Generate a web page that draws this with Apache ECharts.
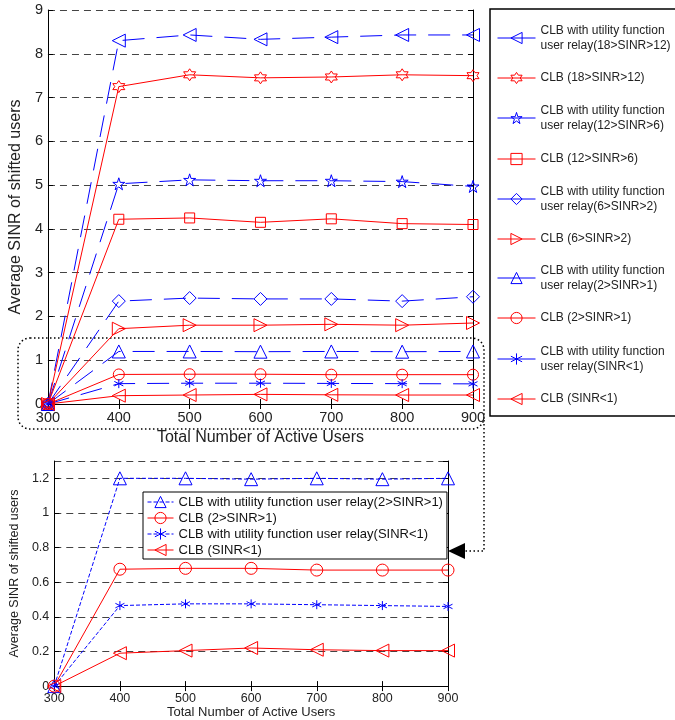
<!DOCTYPE html>
<html>
<head>
<meta charset="utf-8">
<script src="https://cdn.jsdelivr.net/npm/echarts@6/dist/echarts.min.js"></script>
<style>
  html, body { margin: 0; padding: 0; background: #fff; }
  #chart { width: 675px; height: 720px; }
</style>
</head>
<body>
<div id="chart"></div>
<script>
// data
const users = [300, 400, 500, 600, 700, 800, 900];
const utility18to12 = [0, 8.30, 8.43, 8.33, 8.38, 8.43, 8.43];
const clb18to12 = [0, 7.25, 7.52, 7.45, 7.47, 7.52, 7.50];
const utility12to6 = [0, 5.03, 5.12, 5.10, 5.10, 5.08, 4.97];
const clb12to6 = [0, 4.22, 4.25, 4.15, 4.23, 4.12, 4.10];
const utility6to2 = [0, 2.35, 2.42, 2.40, 2.40, 2.35, 2.45];
const clb6to2 = [0, 1.72, 1.80, 1.80, 1.82, 1.80, 1.85];
const utility2to1 = [0, 1.20, 1.20, 1.195, 1.20, 1.195, 1.20];
const clb2to1 = [0, 0.675, 0.68, 0.68, 0.67, 0.67, 0.67];
const utilityBelow1 = [0, 0.465, 0.475, 0.475, 0.47, 0.465, 0.46];
const clbBelow1 = [0, 0.19, 0.205, 0.22, 0.21, 0.205, 0.205];

const FONT = '"Liberation Sans", Arial, sans-serif';
const BLUE = '#0000ff';
const RED = '#ff0000';
const TEXT = '#222';
const CLEAR = 'rgba(255,255,255,0)';

const HEXAGRAM = 'path://M0,-10L2.887,-5L8.66,-5L5.774,0L8.66,5L2.887,5L0,10L-2.887,5L-8.66,5L-5.774,0L-8.66,-5L-2.887,-5Z';
const STAR = 'path://M0,-10L2.245,-3.09L9.511,-3.09L3.633,1.18L5.878,8.09L0,3.82L-5.878,8.09L-3.633,1.18L-9.511,-3.09L-2.245,-3.09Z';
const ASTERISK = 'path://M0,-10L0,10M-8.66,-5L8.66,5M-8.66,5L8.66,-5';

const TOP_DASH = [22, 12];
const LOW_DASH = [4, 2];

function pairs(values) {
  return users.map((u, i) => [u, values[i]]);
}

function makeSeries(name, values, color, symbol, size, dash, grid, rotate) {
  return {
    type: 'line',
    name: name,
    data: pairs(values),
    xAxisIndex: grid * 2,
    yAxisIndex: grid * 2,
    symbol: symbol,
    symbolSize: size,
    symbolRotate: rotate || 0,
    lineStyle: { color: color, width: 1, type: dash },
    itemStyle: { color: CLEAR, borderColor: color, borderWidth: 1 },
    emphasis: { disabled: true }
  };
}

const topSeries = [
  makeSeries('CLB with utility function\nuser relay(18>SINR>12)', utility18to12, BLUE, 'triangle', 13, TOP_DASH, 0, 90),
  makeSeries('CLB (18>SINR>12)', clb18to12, RED, HEXAGRAM, 12, 'solid', 0),
  makeSeries('CLB with utility function\nuser relay(12>SINR>6)', utility12to6, BLUE, STAR, 12, TOP_DASH, 0),
  makeSeries('CLB (12>SINR>6)', clb12to6, RED, 'rect', 10, 'solid', 0),
  makeSeries('CLB with utility function\nuser relay(6>SINR>2)', utility6to2, BLUE, 'diamond', 13, TOP_DASH, 0),
  makeSeries('CLB (6>SINR>2)', clb6to2, RED, 'triangle', 13, 'solid', 0, -90),
  makeSeries('CLB with utility function\nuser relay(2>SINR>1)', utility2to1, BLUE, 'triangle', 13, TOP_DASH, 0),
  makeSeries('CLB (2>SINR>1)', clb2to1, RED, 'circle', 11, 'solid', 0),
  makeSeries('CLB with utility function\nuser relay(SINR<1)', utilityBelow1, BLUE, ASTERISK, 9, TOP_DASH, 0),
  makeSeries('CLB (SINR<1)', clbBelow1, RED, 'triangle', 13, 'solid', 0, 90)
];

const lowSeries = [
  makeSeries('CLB with utility function user relay(2>SINR>1)', utility2to1, BLUE, 'triangle', 13, LOW_DASH, 1),
  makeSeries('CLB (2>SINR>1) ', clb2to1, RED, 'circle', 12, 'solid', 1),
  makeSeries('CLB with utility function user relay(SINR<1)', utilityBelow1, BLUE, ASTERISK, 9, LOW_DASH, 1),
  makeSeries('CLB (SINR<1) ', clbBelow1, RED, 'triangle', 13, 'solid', 1, 90)
];

// right-hand legend, one small legend per entry so rows stay evenly spaced
const rowCenters = [38, 78, 118, 159, 199, 239, 278, 318, 359, 399];
const rightLegends = topSeries.map((s, i) => {
  const lines = s.name.split('\n').length;
  const h = Math.max(14, lines * 14.5);
  return {
    data: [s.name],
    orient: 'vertical',
    left: 497,
    top: rowCenters[i] - h / 2,
    padding: 0,
    itemWidth: 38,
    itemHeight: 14,
    selectedMode: false,
    lineStyle: { type: 'solid', width: 1 },
    itemStyle: { color: CLEAR, borderWidth: 1 },
    textStyle: { fontFamily: FONT, fontSize: 12, lineHeight: 14.5, color: TEXT }
  };
});

const lowLegend = {
  data: lowSeries.map(s => s.name),
  orient: 'vertical',
  left: 143,
  top: 492,
  padding: [3, 4, 2, 4],
  itemGap: 2,
  itemWidth: 26,
  itemHeight: 14,
  selectedMode: false,
  backgroundColor: '#fff',
  borderColor: '#000',
  borderWidth: 1,
  z: 10,
  lineStyle: { width: 1 },
  itemStyle: { color: CLEAR, borderWidth: 1 },
  textStyle: { fontFamily: FONT, fontSize: 13, lineHeight: 14, color: '#111' }
};

const gridDash = { show: true, lineStyle: { color: '#444', type: [7, 5], width: 1 } };
const blackLine = { show: true, lineStyle: { color: '#000', width: 1 } };
const inTick = { show: true, inside: true, length: 5, lineStyle: { color: '#000' } };

function xPair(grid, fontSize, nameSize, nameGap) {
  return [{
    type: 'value', gridIndex: grid, min: 300, max: 900, interval: 100,
    name: 'Total Number of Active Users', nameLocation: 'middle', nameGap: nameGap,
    nameTextStyle: { fontFamily: FONT, fontSize: nameSize, color: TEXT },
    axisLine: blackLine, axisTick: inTick, splitLine: { show: false },
    axisLabel: { fontFamily: FONT, fontSize: fontSize, color: TEXT, margin: 6 }
  }, {
    type: 'value', gridIndex: grid, position: 'top', min: 300, max: 900, interval: 100,
    axisLine: blackLine, axisTick: inTick, splitLine: { show: false }, axisLabel: { show: false }
  }];
}

function yPair(grid, max, interval, fontSize, nameSize, nameGap, fmt) {
  return [{
    type: 'value', gridIndex: grid, min: 0, max: max, interval: interval,
    name: 'Average SINR of shifted users', nameLocation: 'middle', nameGap: nameGap,
    nameTextStyle: { fontFamily: FONT, fontSize: nameSize, color: TEXT },
    axisLine: blackLine, axisTick: inTick, splitLine: gridDash,
    axisLabel: { fontFamily: FONT, fontSize: fontSize, color: TEXT, margin: 5, showMaxLabel: grid === 0, formatter: fmt }
  }, {
    type: 'value', gridIndex: grid, position: 'right', min: 0, max: max, interval: interval,
    axisLine: blackLine, axisTick: inTick, splitLine: { show: false }, axisLabel: { show: false }
  }];
}

const option = {
  animation: false,
  backgroundColor: '#fff',
  grid: [
    { left: 45, right: 202, top: 10, bottom: 316 },
    { left: 53, right: 227, top: 461, bottom: 29 }
  ],
  xAxis: [].concat(xPair(0, 14.5, 16, 26), xPair(1, 12.5, 13, 14)),
  yAxis: [].concat(
    yPair(0, 9, 1, 14.5, 16, 23, v => String(v)),
    yPair(1, 1.3, 0.2, 12.5, 12.5, 27, v => String(Math.round(v * 10) / 10))
  ),
  legend: rightLegends.concat([lowLegend]),
  series: topSeries.concat(lowSeries),
  graphic: [
    { type: 'rect', shape: { x: 490, y: 9, width: 200, height: 407 },
      style: { fill: 'none', stroke: '#000', lineWidth: 1.5 } },
    { type: 'rect', shape: { x: 18, y: 338, width: 466, height: 91, r: 12 },
      style: { fill: 'none', stroke: '#000', lineWidth: 1.5, lineDash: [1.5, 2.5] } },
    { type: 'polyline', shape: { points: [[484, 420], [484, 551], [464, 551]] },
      style: { fill: null, stroke: '#000', lineWidth: 1.5, lineDash: [1.5, 2.5] } },
    { type: 'polygon', shape: { points: [[448, 551], [465, 543], [465, 559]] },
      style: { fill: '#000' } }
  ]
};

const chart = echarts.init(document.getElementById('chart'));
chart.setOption(option);
</script>
</body>
</html>
